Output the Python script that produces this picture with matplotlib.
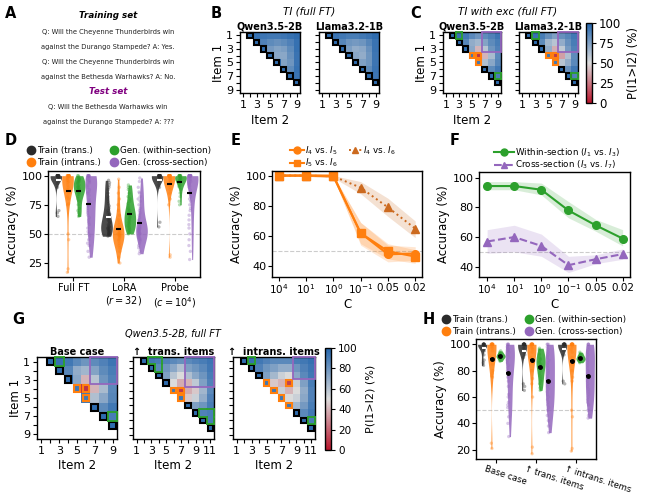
import numpy as np
import pandas as pd
import matplotlib
matplotlib.use('Agg')
import matplotlib.pyplot as plt
import matplotlib.transforms as mtransforms
from matplotlib.colors import LinearSegmentedColormap
from matplotlib.lines import Line2D
from matplotlib.patches import Rectangle
import seaborn as sns

# ---------------- data ----------------
# heatmaps: upper triangle rows, row i holds P(I_i > I_j) for j = i+1..n
b_qwen = [[97, 95, 93, 92, 92, 93, 95, 97],
          [97, 88, 84, 82, 84, 88, 95],
          [97, 78, 74, 76, 84, 95],
          [97, 72, 72, 82, 94],
          [97, 74, 80, 94],
          [97, 84, 95],
          [97, 94],
          [97]]
b_llama = [[97, 94, 92, 90, 90, 92, 94, 97],
           [97, 86, 80, 78, 80, 86, 94],
           [97, 76, 70, 72, 82, 94],
           [97, 72, 70, 80, 93],
           [97, 75, 80, 93],
           [97, 84, 94],
           [97, 93],
           [97]]
c_qwen = [[97, 95, 92, 85, 80, 84, 88, 93],
          [97, 86, 70, 66, 74, 84, 90],
          [97, 72, 40, 60, 80, 88],
          [92, 8, 40, 64, 85],
          [92, 62, 72, 86],
          [97, 84, 92],
          [97, 90],
          [97]]
c_llama = [[97, 95, 90, 82, 75, 82, 86, 92],
           [97, 84, 66, 60, 70, 82, 90],
           [97, 70, 38, 58, 78, 88],
           [92, 10, 35, 62, 84],
           [92, 60, 70, 85],
           [97, 82, 92],
           [97, 88],
           [97]]
g_trans = [[97, 92, 90, 88, 85, 82, 85, 88, 90, 93],
           [97, 85, 80, 72, 62, 75, 80, 85, 92],
           [97, 75, 60, 50, 62, 72, 80, 90],
           [97, 50, 38, 40, 58, 75, 88],
           [92, 10, 38, 45, 66, 85],
           [92, 45, 55, 70, 88],
           [97, 75, 80, 90],
           [97, 88, 90],
           [97, 90],
           [97]]
g_intrans = [[97, 95, 92, 88, 85, 85, 85, 90, 92, 95],
             [97, 88, 80, 75, 70, 70, 80, 88, 93],
             [97, 75, 65, 55, 50, 72, 85, 92],
             [92, 45, 40, 12, 55, 75, 90],
             [92, 55, 40, 50, 70, 88],
             [92, 50, 55, 72, 88],
             [92, 65, 78, 90],
             [97, 85, 92],
             [97, 90],
             [97]]

# pair annotations (item1, item2)
b_black = [(1, 2), (2, 3), (3, 4), (4, 5), (5, 6), (6, 7), (7, 8), (8, 9)]
c_black = [(1, 2), (2, 3), (3, 4), (6, 7), (7, 8), (8, 9)]
c_orange = [(4, 5), (5, 6), (4, 6)]
c_green = [(1, 3), (7, 9)]
c_purple = (1, 3, 7, 9)
gt_black = [(1, 2), (2, 3), (3, 4), (4, 5), (7, 8), (8, 9), (9, 10), (10, 11)]
gt_orange = [(5, 6), (6, 7), (5, 7)]
gt_green = [(1, 3), (1, 4), (2, 4), (8, 10), (8, 11), (9, 11)]
gt_purple = (1, 4, 8, 11)
gi_black = [(1, 2), (2, 3), (3, 4), (8, 9), (9, 10), (10, 11)]
gi_orange = [(4, 5), (5, 6), (6, 7), (7, 8), (4, 8)]
gi_green = [(1, 3), (9, 11)]
gi_purple = (1, 3, 9, 11)

kinds = ['Train (trans.)', 'Train (intrans.)', 'Gen. (within-section)', 'Gen. (cross-section)']

# panel D accuracies
d_groups = ['Full FT', 'LoRA\n($r=32$)', 'Probe\n($c=10^4$)']
ff_tr = [100] * 20 + [99, 99, 98, 98, 97, 96, 95, 93, 90, 70, 68, 65]
ff_in = [100] * 14 + [99, 98, 98, 97, 96, 95, 94, 92, 90, 88, 85, 82, 80, 76, 75, 50, 45, 20, 17]
ff_wi = [100, 99, 98, 97, 96, 95, 94, 93, 92, 91, 90, 89, 88, 88, 87, 86, 85, 84, 82, 80,
         78, 75, 72, 68, 65, 100, 97, 95, 90, 86, 70, 66]
ff_cr = [100] * 7 + [99, 98, 97, 96, 95, 94, 92, 90, 88, 86, 85, 83, 80, 78, 76, 74, 72, 70,
                     68, 66, 64, 62, 60, 58, 55, 52, 50, 48, 45, 42, 40, 35, 30]
lo_tr = [96, 94, 92, 90, 88, 85, 82, 80, 78, 76, 74, 72, 70, 68, 67, 66, 65, 64, 63, 62, 61,
         60, 59, 58, 57, 56, 56, 55, 55, 54, 54, 53, 53, 52, 52, 51, 51, 50, 50, 49, 49, 48]
lo_in = [97, 90, 85, 80, 75, 70, 66, 62, 60, 58, 56, 55, 54, 53, 52, 51, 50, 50, 50, 49, 49,
         48, 48, 47, 46, 45, 44, 42, 40, 38, 35, 30, 25]
lo_wi = [92, 90, 88, 85, 82, 80, 78, 76, 74, 72, 71, 70, 69, 68, 67, 66, 65, 64, 63, 62, 61,
         60, 59, 58, 57, 56, 55, 54, 53, 52, 51, 50]
lo_cr = [98, 95, 90, 86, 85, 82, 80, 78, 75, 72, 70, 68, 66, 64, 62, 60, 59, 58, 57, 56, 55,
         55, 54, 54, 53, 53, 52, 52, 51, 51, 50, 50, 49, 48, 47, 46, 45, 44, 42, 40, 38, 35, 33]
pr_tr = [100] * 20 + [99, 99, 98, 98, 97, 96, 95, 92, 90, 60, 56]
pr_in = [100] * 18 + [99, 98, 98, 97, 96, 95, 94, 93, 92, 90, 88, 85, 80, 75, 32, 30]
pr_wi = [100] * 10 + [99, 98, 98, 97, 97, 96, 96, 95, 95, 94, 93, 92, 91, 90, 88, 85, 82, 78, 75]
pr_cr = [100] * 20 + [99, 98, 97, 96, 95, 94, 93, 92, 91, 90, 88, 86, 84, 82, 80, 78, 75, 72,
                      70, 66, 62, 58, 55, 50, 45, 40, 35, 28]

# panel E / F (accuracy vs regularisation C)
c_labels = ['$10^4$', '$10^1$', '$10^0$', '$10^{-1}$', '0.05', '0.02']
e_45 = [100, 100, 100, 62, 48, 48.5]
e_45_lo = [99.5, 99.5, 99, 54, 43, 44]
e_45_hi = [100, 100, 100, 69, 54, 53]
e_56 = [100, 100, 99.5, 62, 50, 46.5]
e_56_lo = [99.5, 99.5, 98.5, 55, 45, 42]
e_56_hi = [100, 100, 100, 69, 55, 51]
e_46 = [100, 100, 99.5, 92, 79, 65]
e_46_lo = [99.5, 99.5, 98.5, 88, 73, 59]
e_46_hi = [100, 100, 100, 96, 85, 70]
f_wi = [94.5, 94.5, 92, 78, 68, 59]
f_wi_lo = [92, 92, 88.5, 73, 64, 54]
f_wi_hi = [97.5, 97.5, 96.5, 84, 72, 65]
f_cr = [57, 60, 54, 41, 45, 48.5]
f_cr_lo = [49, 50, 47, 36, 42, 45]
f_cr_hi = [65, 68, 62, 47, 48, 52]

# panel H accuracies
h_groups = ['Base case', '\u2191 trans. items', '\u2191 intrans. items']
hb_tr = [100] * 12 + [99, 98, 97, 95, 92, 88, 86, 84]
hb_in = [100] * 14 + [99, 98, 97, 95, 90, 85, 80, 78, 76, 75, 25, 21]
hb_wi = [95, 94, 93, 92, 92, 91, 91, 91, 90, 90, 89, 88, 87]
hb_cr = [100] * 4 + [99, 98, 97, 96, 95, 94, 92, 90, 88, 86, 84, 82, 80, 78, 75, 72, 68, 62,
                     60, 56, 54, 52, 45, 40, 30]
ht_tr = [100] * 16 + [99, 98, 97, 96, 94, 92, 90, 70, 68, 65]
ht_in = [100] * 14 + [99, 98, 97, 96, 94, 90, 86, 80, 74, 70, 60, 22, 17]
ht_wi = [97, 96, 95, 93, 92, 90, 89, 88, 87, 86, 85, 84, 83, 82, 80, 78, 76, 74, 72, 70, 67, 65]
ht_cr = [100, 100, 100, 98, 96, 94, 92, 90, 88, 86, 84, 82, 80, 78, 76, 74, 72, 70, 68, 66,
         64, 62, 60, 58, 56, 54, 52, 50, 46, 42, 38, 33]
hi_tr = [100] * 16 + [99, 98, 97, 95, 92, 72, 70]
hi_in = [100] * 16 + [99, 98, 96, 94, 90, 85, 80, 75, 72, 50, 45, 21, 19]
hi_wi = [94, 93, 92, 91, 90, 90, 89, 89, 88, 88, 87, 86]
hi_cr = [100] * 4 + [98, 96, 94, 92, 90, 88, 86, 84, 82, 80, 78, 76, 74, 72, 70, 68, 66, 64,
                     62, 60, 58, 56, 54, 50, 46, 44]

# ---------------- style ----------------
plt.rcParams['font.family'] = 'DejaVu Sans'
plt.rcParams['font.size'] = 8
plt.rcParams['axes.linewidth'] = 1.0
plt.rcParams['xtick.major.size'] = 3
plt.rcParams['ytick.major.size'] = 3

pal = ['#2b2b2b', '#ff7f0e', '#2ca02c', '#9467bd']
cmap = LinearSegmentedColormap.from_list('pref', ['#b8142b', '#dcdcdc', '#2566ad'])

W, H = 647, 497
fig = plt.figure(figsize=(W / 100, H / 100), dpi=100)


def px_axes(x0, y0, x1, y1):
    return fig.add_axes([x0 / W, 1 - y1 / H, (x1 - x0) / W, (y1 - y0) / H])


def fx(x):
    return x / W


def fy(y):
    return 1 - y / H


def heatmap(ax, rows, n, black, orange=(), green=(), purple=None, title=None,
            ylab=True, tick_fs=8, title_fs=7):
    m = np.full((n, n), np.nan)
    for i, r in enumerate(rows):
        m[i, i + 1:i + 1 + len(r)] = r
    im = ax.imshow(m, cmap=cmap, vmin=0, vmax=100, extent=(0.5, n + 0.5, n + 0.5, 0.5),
                   aspect='auto', interpolation='nearest')
    for (i, j) in black:
        ax.add_patch(Rectangle((j - 0.38, i - 0.38), 0.76, 0.76, fill=False, ec='black', lw=1.5,
                               clip_on=False, zorder=4))
    for (i, j) in orange:
        ax.add_patch(Rectangle((j - 0.38, i - 0.38), 0.76, 0.76, fill=False, ec='#ff7f0e', lw=1.5,
                               clip_on=False, zorder=4))
    cells = set(green)
    kw = dict(color='#2ca02c', lw=1.3, clip_on=False, zorder=5, solid_capstyle='projecting')
    for (i, j) in cells:
        if (i - 1, j) not in cells:
            ax.plot([j - 0.5, j + 0.5], [i - 0.5, i - 0.5], **kw)
        if (i + 1, j) not in cells:
            ax.plot([j - 0.5, j + 0.5], [i + 0.5, i + 0.5], **kw)
        if (i, j - 1) not in cells:
            ax.plot([j - 0.5, j - 0.5], [i - 0.5, i + 0.5], **kw)
        if (i, j + 1) not in cells:
            ax.plot([j + 0.5, j + 0.5], [i - 0.5, i + 0.5], **kw)
    if purple is not None:
        r0, r1, c0, c1 = purple
        ax.add_patch(Rectangle((c0 - 0.5, r0 - 0.5), c1 - c0 + 1, r1 - r0 + 1, fill=False,
                               ec='#9467bd', lw=1.3, clip_on=False, zorder=5))
    ticks = list(range(1, n + 1))
    labs = [str(t) if t % 2 else '' for t in ticks]
    ax.set_xticks(ticks)
    ax.set_xticklabels(labs, fontsize=tick_fs)
    ax.set_yticks(ticks)
    ax.set_yticklabels(labs if ylab else [], fontsize=tick_fs)
    ax.tick_params(pad=2)
    ax.set_xlim(0.5, n + 0.5)
    ax.set_ylim(n + 0.5, 0.5)
    if title:
        ax.set_title(title, fontsize=title_fs, fontweight='bold', pad=1.5)
    return im


# ---------------- A ----------------
ax_a_x = 108
fig.text(fx(ax_a_x), fy(16), 'Training set', ha='center', va='center', fontsize=6.3,
         fontweight='bold', style='italic')
a_lines = ['Q: Will the Cheyenne Thunderbirds win',
           'against the Durango Stampede? A: Yes.',
           'Q: Will the Cheyenne Thunderbirds win',
           'against the Bethesda Warhawks? A: No.']
for k, t in enumerate(a_lines):
    fig.text(fx(ax_a_x), fy(32 + 15 * k), t, ha='center', va='center', fontsize=4.9, color='#222222')
fig.text(fx(ax_a_x), fy(91), 'Test set', ha='center', va='center', fontsize=6.3,
         fontweight='bold', style='italic', color='#800080')
for k, t in enumerate(['Q: Will the Bethesda Warhawks win', 'against the Durango Stampede? A: ???']):
    fig.text(fx(ax_a_x), fy(107 + 15 * k), t, ha='center', va='center', fontsize=4.9, color='#222222')

# ---------------- B ----------------
axb1 = px_axes(240, 32, 300, 93)
axb2 = px_axes(319, 32, 379, 93)
heatmap(axb1, b_qwen, 9, b_black, title='Qwen3.5-2B')
heatmap(axb2, b_llama, 9, b_black, title='Llama3.2-1B', ylab=False)
axb1.set_ylabel('Item 1', fontsize=8.5, labelpad=1)
axb1.set_xlabel('Item 2', fontsize=8.5, labelpad=3)
fig.text(fx(309), fy(12), 'TI (full FT)', ha='center', va='center', fontsize=7.5, style='italic')

# ---------------- C ----------------
axc1 = px_axes(443, 32, 501, 93)
axc2 = px_axes(519, 32, 578, 93)
im = heatmap(axc1, c_qwen, 9, c_black, c_orange, c_green, c_purple, title='Qwen3.5-2B')
heatmap(axc2, c_llama, 9, c_black, c_orange, c_green, c_purple, title='Llama3.2-1B', ylab=False)
axc1.set_ylabel('Item 1', fontsize=8.5, labelpad=1)
axc1.set_xlabel('Item 2', fontsize=8.5, labelpad=3)
fig.text(fx(508), fy(12), 'TI with exc (full FT)', ha='center', va='center', fontsize=7.5, style='italic')
cax = px_axes(586, 23, 592, 103)
cb = fig.colorbar(im, cax=cax, ticks=[0, 25, 50, 75, 100])
cb.ax.tick_params(labelsize=8.5, pad=2)
cb.set_label('P(I1>I2) (%)', fontsize=8.5, labelpad=4)


# ---------------- violin helper ----------------
def violins(ax, groups, series, dot=False):
    recs = []
    for g, lists in zip(groups, series):
        for k, vals in zip(kinds, lists):
            for v in vals:
                recs.append((g, k, v))
    df = pd.DataFrame(recs, columns=['grp', 'kind', 'acc'])
    sns.violinplot(data=df, x='grp', y='acc', hue='kind', order=groups, hue_order=kinds,
                   palette=pal, cut=0, inner=None, density_norm='width', linewidth=0,
                   saturation=1, width=0.92, ax=ax, legend=False)
    for c in ax.collections:
        c.set_alpha(0.85)
    np.random.seed(1)
    sns.stripplot(data=df, x='grp', y='acc', hue='kind', order=groups, hue_order=kinds,
                  palette=pal, dodge=True, jitter=0.08, size=2.4, alpha=0.35, linewidth=0,
                  ax=ax, legend=False)
    offs = [-0.3, -0.1, 0.1, 0.3]
    for gi, lists in enumerate(series):
        for ki, vals in enumerate(lists):
            mval = np.mean(vals)
            x = gi + offs[ki]
            col = 'white' if ki == 0 else 'black'
            ax.plot([x - 0.05, x + 0.05], [mval, mval], color=col, lw=1.5,
                    solid_capstyle='butt', zorder=6)
            if dot and ki > 0:
                ax.plot([x], [mval], 'o', color='black', ms=2.5, zorder=7)
    ax.axhline(50, color='#cccccc', ls='--', lw=0.8, zorder=0)
    ax.set_xlabel('')
    ax.set_ylabel('Accuracy (%)', fontsize=8.5, labelpad=2)
    ax.tick_params(axis='y', labelsize=8, pad=1)
    ax.set_xlim(-0.5, len(groups) - 0.5)


def kind_legend(x, y):
    hs = [Line2D([], [], marker='o', ls='', color=c, markersize=6) for c in pal]
    fig.legend(hs, kinds, loc='upper left', bbox_to_anchor=(fx(x), fy(y)), ncol=2, frameon=False,
               fontsize=6.3, borderpad=0, handletextpad=0.1, columnspacing=0.9, labelspacing=0.3,
               handlelength=1.2)


# ---------------- D ----------------
axd = px_axes(48, 171, 200, 277)
violins(axd, d_groups, [[ff_tr, ff_in, ff_wi, ff_cr], [lo_tr, lo_in, lo_wi, lo_cr],
                        [pr_tr, pr_in, pr_wi, pr_cr]])
axd.set_ylim(13, 104)
axd.set_yticks([25, 50, 75, 100])
axd.set_xticks([0, 1, 2])
axd.set_xticklabels(d_groups, fontsize=7)
axd.tick_params(axis='x', pad=1)
kind_legend(21, 142)

# ---------------- E ----------------
axe = px_axes(272, 171, 422, 277)
xc = np.arange(len(c_labels))
orange = '#ff7f0e'
dark = '#cc6a1f'
axe.fill_between(xc, e_46_lo, e_46_hi, color=dark, alpha=0.2, lw=0)
axe.fill_between(xc, e_45_lo, e_45_hi, color=orange, alpha=0.18, lw=0)
axe.fill_between(xc, e_56_lo, e_56_hi, color=orange, alpha=0.18, lw=0)
axe.plot(xc, e_46, ':^', color=dark, lw=1.4, ms=5.5)
axe.plot(xc, e_45, '-o', color=orange, lw=1.5, ms=5.5)
axe.plot(xc, e_56, '-s', color=orange, lw=1.5, ms=5.5)
axe.axhline(50, color='#cccccc', ls='--', lw=0.8, zorder=0)
axe.set_xlim(-0.25, 5.25)
axe.set_ylim(33, 103)
axe.set_yticks([40, 60, 80, 100])
axe.set_xticks(xc)
axe.set_xticklabels(c_labels, fontsize=7.5)
axe.tick_params(axis='y', labelsize=8, pad=1)
axe.tick_params(axis='x', pad=1)
axe.set_ylabel('Accuracy (%)', fontsize=8.5, labelpad=2)
axe.set_xlabel('C', fontsize=8.5, labelpad=1)
he = [Line2D([], [], color=orange, ls='-', marker='o', lw=1.5, ms=5),
      Line2D([], [], color=orange, ls='-', marker='s', lw=1.5, ms=5),
      Line2D([], [], color=dark, ls=':', marker='^', lw=1.4, ms=5)]
fig.legend(he, ['$I_4$ vs. $I_5$', '$I_5$ vs. $I_6$', '$I_4$ vs. $I_6$'], loc='upper left',
           bbox_to_anchor=(fx(286), fy(140)), ncol=2, frameon=False, fontsize=6.3, borderpad=0,
           handletextpad=0.2, columnspacing=1.2, labelspacing=0.0, handlelength=1.5)

# ---------------- F ----------------
axf = px_axes(479, 172, 630, 277)
green = '#2ca02c'
purple = '#9467bd'
axf.fill_between(xc, f_wi_lo, f_wi_hi, color=green, alpha=0.18, lw=0)
axf.fill_between(xc, f_cr_lo, f_cr_hi, color=purple, alpha=0.18, lw=0)
axf.plot(xc, f_wi, '-o', color=green, lw=1.5, ms=5.5)
axf.plot(xc, f_cr, '--^', color=purple, lw=1.5, ms=5.5)
axf.axhline(50, color='#cccccc', ls='--', lw=0.8, zorder=0)
axf.set_xlim(-0.3, 5.27)
axf.set_ylim(33, 104)
axf.set_yticks([40, 60, 80, 100])
axf.set_xticks(xc)
axf.set_xticklabels(c_labels, fontsize=7.5)
axf.tick_params(axis='y', labelsize=8, pad=1)
axf.tick_params(axis='x', pad=1)
axf.set_ylabel('Accuracy (%)', fontsize=8.5, labelpad=2)
axf.set_xlabel('C', fontsize=8.5, labelpad=1)
hf = [Line2D([], [], color=green, ls='-', marker='o', lw=1.5, ms=5),
      Line2D([], [], color=purple, ls='--', marker='^', lw=1.5, ms=5)]
fig.legend(hf, ['Within-section ($I_1$ vs. $I_3$)', 'Cross-section ($I_3$ vs. $I_7$)'],
           loc='upper left', bbox_to_anchor=(fx(490), fy(142)), ncol=1, frameon=False,
           fontsize=6.3, borderpad=0, handletextpad=0.2, labelspacing=0.0, handlelength=2.2)

# ---------------- G ----------------
axg1 = px_axes(37, 357, 117, 439)
axg2 = px_axes(133, 357, 214, 439)
axg3 = px_axes(233, 357, 315, 439)
img = heatmap(axg1, c_qwen, 9, c_black, c_orange, c_green, c_purple, title='Base case')
heatmap(axg2, g_trans, 11, gt_black, gt_orange, gt_green, gt_purple,
        title='\u2191  trans. items', ylab=False)
heatmap(axg3, g_intrans, 11, gi_black, gi_orange, gi_green, gi_purple,
        title='\u2191  intrans. items', ylab=False)
axg1.set_ylabel('Item 1', fontsize=8.5, labelpad=1)
for a in (axg1, axg2, axg3):
    a.set_xlabel('Item 2', fontsize=8.5, labelpad=2)
fig.text(fx(173), fy(334), 'Qwen3.5-2B, full FT', ha='center', va='center', fontsize=7, style='italic')
cax2 = px_axes(325, 348, 331, 450)
cb2 = fig.colorbar(img, cax=cax2, ticks=[0, 20, 40, 60, 80, 100])
cb2.ax.tick_params(labelsize=7.5, pad=2)
cb2.set_label('P(I1>I2) (%)', fontsize=8, labelpad=6)

# ---------------- H ----------------
axh = px_axes(476, 339, 596, 459)
violins(axh, h_groups, [[hb_tr, hb_in, hb_wi, hb_cr], [ht_tr, ht_in, ht_wi, ht_cr],
                        [hi_tr, hi_in, hi_wi, hi_cr]], dot=True)
axh.set_ylim(13, 104)
axh.set_yticks([20, 40, 60, 80, 100])
axh.set_xticks([0, 1, 2])
axh.set_xticklabels(h_groups, fontsize=6.2, rotation=-18, ha='left', va='top',
                    rotation_mode='anchor')
axh.tick_params(axis='x', pad=1)
shift = mtransforms.ScaledTranslation(-7 / 72, 0, fig.dpi_scale_trans)
for lab in axh.get_xticklabels():
    lab.set_transform(lab.get_transform() + shift)
kind_legend(436, 311)

# ---------------- panel letters ----------------
for letter, (x, y) in {'A': (11, 13), 'B': (216, 13), 'C': (416, 13), 'D': (11, 140),
                       'E': (236, 140), 'F': (455, 140), 'G': (18, 319), 'H': (429, 319)}.items():
    fig.text(fx(x), fy(y), letter, ha='center', va='center', fontsize=10.5, fontweight='bold')

fig.savefig('out.png', dpi=100)
